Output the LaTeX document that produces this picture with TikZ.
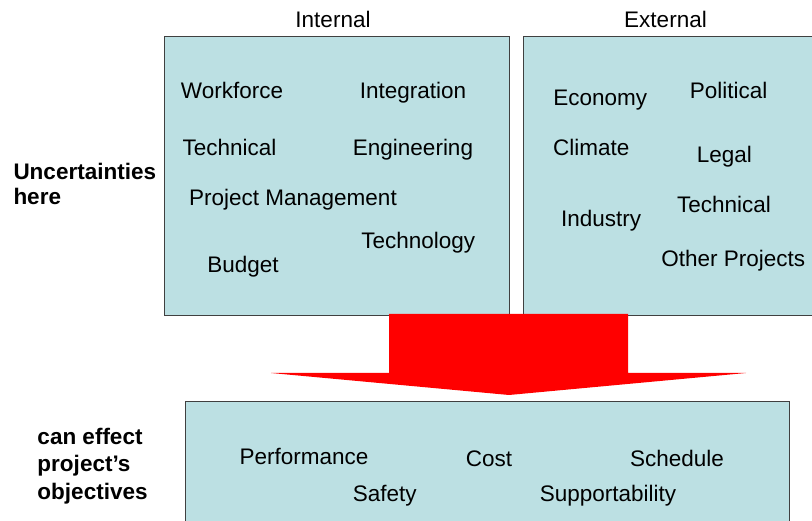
\documentclass[tikz,border=0pt]{standalone}
\usepackage{fontspec}
\setmainfont{Liberation Sans}
\usetikzlibrary{positioning}

\definecolor{areafill}{RGB}{188,224,227}
\definecolor{arealine}{RGB}{64,64,64}
\definecolor{flowred}{RGB}{255,0,0}

\tikzset{
  area/.style={draw=arealine, fill=areafill, line width=1.4pt, inner sep=0pt},
  word/.style={anchor=base, inner sep=0pt, font=\fontsize{22.5}{27}\selectfont},
  sidenote/.style={anchor=north west, align=left, inner sep=0pt}
}

\begin{document}
\begin{tikzpicture}[x=1pt, y=-1pt]
    \useasboundingbox (0,0) rectangle (812,521);
    \clip (0,0) rectangle (812,521);

    % --- Riquadri ---
    \node[area, anchor=north west, minimum width=345pt, minimum height=279pt] (internal) at (164,36) {};
    \node[area, anchor=north west, minimum width=330pt, minimum height=279pt] (external) at (523,36) {};
    \node[area, anchor=north west, minimum width=604pt, minimum height=160pt] (objectives) at (185,401) {};

    % Freccia rossa verso il basso
    \fill[flowred] (389,314) -- (628,314) -- (628,373) -- (746,373) -- (509,395)
        -- (271,373) -- (389,373) -- cycle;

    % Titoli
    \node[word] (t-int) at (333,27.3) {Internal};
    \node[word] (t-ext) at (665.5,27.3) {External};

    % --- Interno ---
    \node[word] (i-work) at (232,99) {Workforce};
    \node[word] (i-integ) at (413,99) {Integration};
    \node[word] (i-tech) at (229.5,156) {Technical};
    \node[word] (i-eng) at (413,156) {Engineering};
    \node[word] (i-pm) at (293,206) {Project Management};
    \node[word] (i-techn) at (418.3,249) {Technology};
    \node[word] (i-budget) at (243,273) {Budget};

    % --- Esterno ---
    \node[word] (e-econ) at (600.3,106) {Economy};
    \node[word] (e-pol) at (728.7,99) {Political};
    \node[word] (e-clim) at (591.3,156) {Climate};
    \node[word] (e-legal) at (724.3,163) {Legal};
    \node[word] (e-tech) at (724,213) {Technical};
    \node[word] (e-ind) at (601.2,227) {Industry};
    \node[word] (e-other) at (733.3,266.7) {Other Projects};

    % --- Obiettivi ---
    \node[word] (o-perf) at (304,464.3) {Performance};
    \node[word] (o-cost) at (489,466.7) {Cost};
    \node[word] (o-sched) at (677,466.7) {Schedule};
    \node[word] (o-safe) at (384.8,501) {Safety};
    \node[word] (o-supp) at (608,501) {Supportability};

    % Etichette laterali
    \node[sidenote, font=\fontsize{22.5}{25.5}\selectfont\bfseries] (unc) at (13.3,162.9) {Uncertainties\\here};
    \node[sidenote, font=\fontsize{22.5}{27.5}\selectfont\bfseries] (eff) at (37.3,427.6) {can effect\\project’s\\objectives};
\end{tikzpicture}
\end{document}
